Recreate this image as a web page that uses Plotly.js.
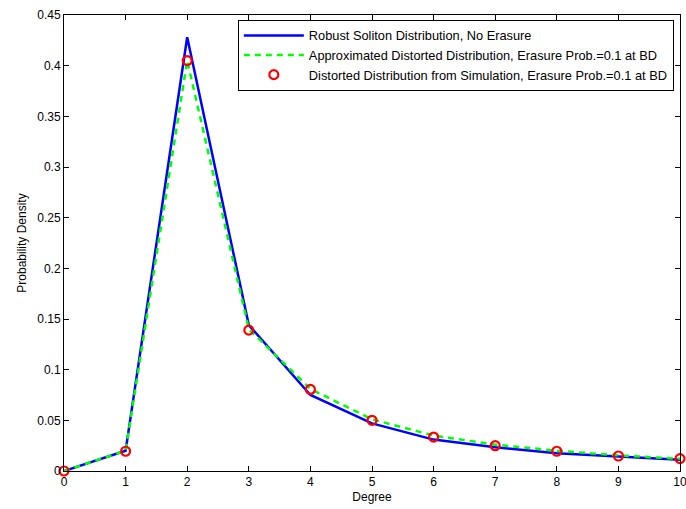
<!DOCTYPE html>
<html>
<head>
<meta charset="utf-8">
<script src="https://cdn.plot.ly/plotly-3.0.1.min.js"></script>
<style>html,body{margin:0;padding:0;background:#fff;}#chart{width:686px;height:509px;}</style>
</head>
<body>
<div id="chart"></div>
<script>
const degree = [0, 1, 2, 3, 4, 5, 6, 7, 8, 9, 10];
const robustSoliton = [0, 0.020, 0.428, 0.144, 0.075, 0.047, 0.031, 0.0235, 0.0175, 0.014, 0.011];
const approxDistorted = [0, 0.020, 0.405, 0.140, 0.081, 0.051, 0.035, 0.026, 0.020, 0.0155, 0.012];
const simDistorted = [0, 0.0195, 0.405, 0.139, 0.0805, 0.050, 0.0335, 0.025, 0.0195, 0.0148, 0.0122];
const xTicks = [0, 1, 2, 3, 4, 5, 6, 7, 8, 9, 10];
const yTicks = [0, 0.05, 0.1, 0.15, 0.2, 0.25, 0.3, 0.35, 0.4, 0.45];
const yTickText = ['0', '0.05', '0.1', '0.15', '0.2', '0.25', '0.3', '0.35', '0.4', '0.45'];

const traces = [
  {x: degree, y: robustSoliton, mode: 'lines', name: 'Robust Soliton Distribution, No Erasure',
   line: {color: '#0000ff', width: 2.5}},
  {x: degree, y: approxDistorted, mode: 'lines', name: 'Approximated Distorted Distribution, Erasure Prob.=0.1 at BD',
   line: {color: '#00ff00', width: 2.5, dash: '6px,5px'}},
  {x: degree, y: simDistorted, mode: 'markers', name: 'Distorted Distribution from Simulation, Erasure Prob.=0.1 at BD',
   marker: {symbol: 'circle-open', color: '#ff0000', size: 9, line: {width: 2.2, color: '#ff0000'}}, cliponaxis: false}
];

const axisCommon = {
  showgrid: false, zeroline: false, showline: true, mirror: 'ticks',
  linecolor: '#000', linewidth: 1, ticks: 'inside', ticklen: 5, tickcolor: '#000',
  ticklabeloverflow: 'allow',
  tickfont: {family: 'Liberation Sans, Arial, sans-serif', size: 12, color: '#000'}
};

const layout = {
  width: 686, height: 509,
  margin: {l: 64, r: 6, t: 15, b: 38},
  paper_bgcolor: '#fff', plot_bgcolor: '#fff',
  font: {family: 'Liberation Sans, Arial, sans-serif', color: '#000'},
  showlegend: true,
  xaxis: Object.assign({}, axisCommon, {
    range: [0, 10], tickvals: xTicks, ticktext: xTicks.map(String),
    title: {text: 'Degree', font: {size: 12}, standoff: 4}
  }),
  yaxis: Object.assign({}, axisCommon, {
    range: [0, 0.45], tickvals: yTicks, ticktext: yTickText,
    title: {text: 'Probability Density', font: {size: 12}, standoff: 8}
  }),
  legend: {
    x: 0.99, xanchor: 'right', y: 0.99, yanchor: 'top',
    bgcolor: '#fff', bordercolor: '#000', borderwidth: 1,
    font: {size: 12.8, family: 'Liberation Sans, Arial, sans-serif'},
    tracegroupgap: 0, itemwidth: 60
  }
};

Plotly.newPlot('chart', traces, layout, {displayModeBar: false, staticPlot: true});
</script>
</body>
</html>
